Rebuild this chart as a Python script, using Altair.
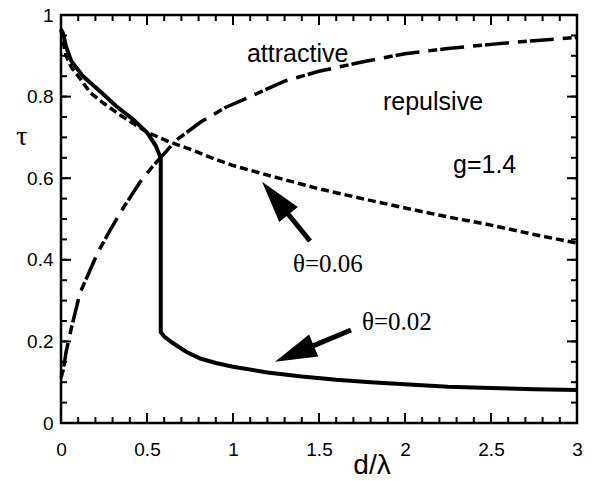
import math
import altair as alt
import pandas as pd

# theta = 0.02 (solid, with the jump)
x_solid = [0.0, 0.012, 0.03, 0.06, 0.13, 0.23, 0.32, 0.42, 0.5, 0.55, 0.58, 0.58, 0.6, 0.65,
           0.73, 0.81, 0.9, 1.0, 1.2, 1.4, 1.6, 1.8, 2.0, 2.25, 2.5, 2.75, 3.0]
y_solid = [0.965, 0.955, 0.922, 0.887, 0.849, 0.812, 0.777, 0.744, 0.712, 0.68, 0.65, 0.223, 0.212, 0.196,
           0.174, 0.158, 0.147, 0.138, 0.124, 0.114, 0.106, 0.100, 0.095, 0.089, 0.086, 0.083, 0.081]

# theta = 0.06 (short dashes)
x_dash = [0.0, 0.01, 0.03, 0.06, 0.1, 0.17, 0.25, 0.35, 0.5, 0.63, 0.77, 0.9, 1.0, 1.25, 1.5,
          1.75, 2.0, 2.25, 2.5, 2.75, 3.0]
y_dash = [0.965, 0.94, 0.9, 0.872, 0.85, 0.81, 0.783, 0.753, 0.713, 0.689, 0.668, 0.646, 0.631, 0.602, 0.574,
          0.550, 0.527, 0.505, 0.485, 0.462, 0.441]

# attractive / repulsive boundary (long-short dashes)
x_bound = [0.0, 0.013, 0.03, 0.062, 0.11, 0.163, 0.213, 0.289, 0.357, 0.459, 0.531, 0.576, 0.67, 0.81,
           0.95, 1.1, 1.3, 1.5, 1.75, 2.0, 2.25, 2.5, 2.75, 3.0]
y_bound = [0.11, 0.13, 0.175, 0.236, 0.318, 0.369, 0.417, 0.475, 0.524, 0.59, 0.628, 0.649, 0.693, 0.737,
           0.772, 0.80, 0.838, 0.862, 0.885, 0.905, 0.918, 0.928, 0.937, 0.945]

# arrows (tip and tail in data units)
arrow_tip_x = [1.169, 1.244]
arrow_tip_y = [0.591, 0.150]
arrow_tail_x = [1.448, 1.686]
arrow_tail_y = [0.446, 0.228]

# annotations
sans_text = ["attractive", "repulsive", "g=1.4"]
sans_x = [1.081, 1.872, 2.279]
sans_y = [0.885, 0.767, 0.613]
serif_text = ["θ=0.06", "θ=0.02"]
serif_x = [1.349, 1.75]
serif_y = [0.371, 0.228]

x_major = [0, 0.5, 1, 1.5, 2, 2.5, 3]
x_minor = [round(i * 0.1, 2) for i in range(31)]
y_major = [0, 0.2, 0.4, 0.6, 0.8, 1]
y_minor = [round(i * 0.05, 2) for i in range(21)]

W, H = 516, 408
XD, YD = [0, 3], [0, 1]
MAJ, MIN = 10, 6

df_s = pd.DataFrame({"x": x_solid, "y": y_solid, "i": range(len(x_solid))})
df_d = pd.DataFrame({"x": x_dash, "y": y_dash, "i": range(len(x_dash))})
df_b = pd.DataFrame({"x": x_bound, "y": y_bound, "i": range(len(x_bound))})

px = W / (XD[1] - XD[0])
py = H / (YD[1] - YD[0])
angs, mx, my = [], [], []
for tx, ty, sx, sy in zip(arrow_tip_x, arrow_tip_y, arrow_tail_x, arrow_tail_y):
    dx = (tx - sx) * px
    dy = -(ty - sy) * py
    angs.append(math.degrees(math.atan2(dx, -dy)) % 360)
    mx.append(tx + 0.5 * (sx - tx))
    my.append(ty + 0.5 * (sy - ty))
df_a = pd.DataFrame({"tx": arrow_tip_x, "ty": arrow_tip_y, "sx": arrow_tail_x, "sy": arrow_tail_y,
                     "mx": mx, "my": my, "ang": angs})
df_t1 = pd.DataFrame({"x": sans_x, "y": sans_y, "t": sans_text})
df_t2 = pd.DataFrame({"x": serif_x, "y": serif_y, "t": serif_text})
df_tx = pd.DataFrame({"x": [1.808], "y": [-0.125], "t": ["d/λ"]})
df_ty = pd.DataFrame({"x": [-0.227], "y": [0.70], "t": ["τ"]})

xs = alt.Scale(domain=XD, nice=False, zero=False)
ys = alt.Scale(domain=YD, nice=False, zero=False)

x_axis = alt.Axis(values=x_major, format="~g", ticks=False, tickSize=0, domain=False, grid=False,
                  title=None, labelFont="Liberation Sans", labelFontSize=19, labelColor="black",
                  labelPadding=17, labelFlush=False, labelOverlap=False, labelBound=False)
y_axis = alt.Axis(values=y_major, format="~g", ticks=False, tickSize=0, domain=False, grid=False,
                  title=None, labelFont="Liberation Sans", labelFontSize=19, labelColor="black",
                  labelPadding=8, labelOverlap=False, labelBound=False)

solid = alt.Chart(df_s).mark_line(color="black", strokeWidth=4).encode(
    x=alt.X("x:Q", scale=xs, axis=x_axis),
    y=alt.Y("y:Q", scale=ys, axis=y_axis),
    order="i:Q",
)
dash = alt.Chart(df_d).mark_line(color="black", strokeWidth=3.5, strokeDash=[8, 4]).encode(
    x=alt.X("x:Q", scale=xs), y=alt.Y("y:Q", scale=ys), order="i:Q",
)
bound = alt.Chart(df_b).mark_line(color="black", strokeWidth=3.5, strokeDash=[9, 3, 24, 9]).encode(
    x=alt.X("x:Q", scale=xs), y=alt.Y("y:Q", scale=ys), order="i:Q",
)
shaft = alt.Chart(df_a).mark_rule(color="black", strokeWidth=5).encode(
    x=alt.X("sx:Q", scale=xs), y=alt.Y("sy:Q", scale=ys), x2="mx:Q", y2="my:Q",
)
head = alt.Chart(df_a).mark_point(
    shape="M0,0L0.57,2L-0.57,2Z", size=1764, filled=True, color="black", opacity=1, strokeWidth=0
).encode(
    x=alt.X("tx:Q", scale=xs), y=alt.Y("ty:Q", scale=ys),
    angle=alt.Angle("ang:Q", scale=None),
)

# inward tick marks on all four sides
tick_rows = []
for v in x_minor:
    tick_rows.append({"side": "x", "v": v, "len": MIN})
for v in x_major:
    tick_rows.append({"side": "x", "v": v, "len": MAJ})
for v in y_minor:
    tick_rows.append({"side": "y", "v": v, "len": MIN})
for v in y_major:
    tick_rows.append({"side": "y", "v": v, "len": MAJ})
df_tk = pd.DataFrame(tick_rows)
df_xt = df_tk[df_tk.side == "x"].copy()
df_yt = df_tk[df_tk.side == "y"].copy()
df_xt["x0"] = df_xt["v"]
df_xt["x1"] = df_xt["v"]
df_xt_top = df_xt.assign(y0=YD[1], y1=YD[1] - df_xt["len"] / py)
df_xt_bot = df_xt.assign(y0=YD[0], y1=YD[0] + df_xt["len"] / py)
df_yt_l = df_yt.assign(y0=df_yt["v"], y1=df_yt["v"], x0=XD[0], x1=XD[0] + df_yt["len"] / px)
df_yt_r = df_yt.assign(y0=df_yt["v"], y1=df_yt["v"], x0=XD[1], x1=XD[1] - df_yt["len"] / px)
df_ticks = pd.concat([df_xt_top, df_xt_bot, df_yt_l, df_yt_r], ignore_index=True)[["x0", "x1", "y0", "y1"]]

ticks = alt.Chart(df_ticks).mark_rule(color="black", strokeWidth=2).encode(
    x=alt.X("x0:Q", scale=xs), x2="x1:Q", y=alt.Y("y0:Q", scale=ys), y2="y1:Q"
)

t_sans = alt.Chart(df_t1).mark_text(align="left", baseline="alphabetic", font="Liberation Sans",
                                     fontSize=25, color="black").encode(
    x=alt.X("x:Q", scale=xs), y=alt.Y("y:Q", scale=ys), text="t:N")
t_serif = alt.Chart(df_t2).mark_text(align="left", baseline="alphabetic", font="Liberation Serif",
                                      fontSize=25, color="black").encode(
    x=alt.X("x:Q", scale=xs), y=alt.Y("y:Q", scale=ys), text="t:N")
t_x = alt.Chart(df_tx).mark_text(align="center", baseline="alphabetic", font="Liberation Sans",
                                  fontSize=28, color="black").encode(
    x=alt.X("x:Q", scale=xs), y=alt.Y("y:Q", scale=ys), text="t:N")
t_y = alt.Chart(df_ty).mark_text(align="center", baseline="middle", font="Liberation Serif",
                                  fontSize=28, color="black").encode(
    x=alt.X("x:Q", scale=xs), y=alt.Y("y:Q", scale=ys), text="t:N")

chart = alt.layer(solid, dash, bound, shaft, head, ticks, t_sans, t_serif, t_x, t_y).properties(
    width=W, height=H,
    autosize=alt.AutoSizeParams(type="none"),
    padding={"left": 61, "top": 15, "right": 15, "bottom": 58},
    background="white",
).configure_view(stroke="black", strokeWidth=2.5)

chart.save("out.html", embed_options={"renderer": "svg", "actions": False})
